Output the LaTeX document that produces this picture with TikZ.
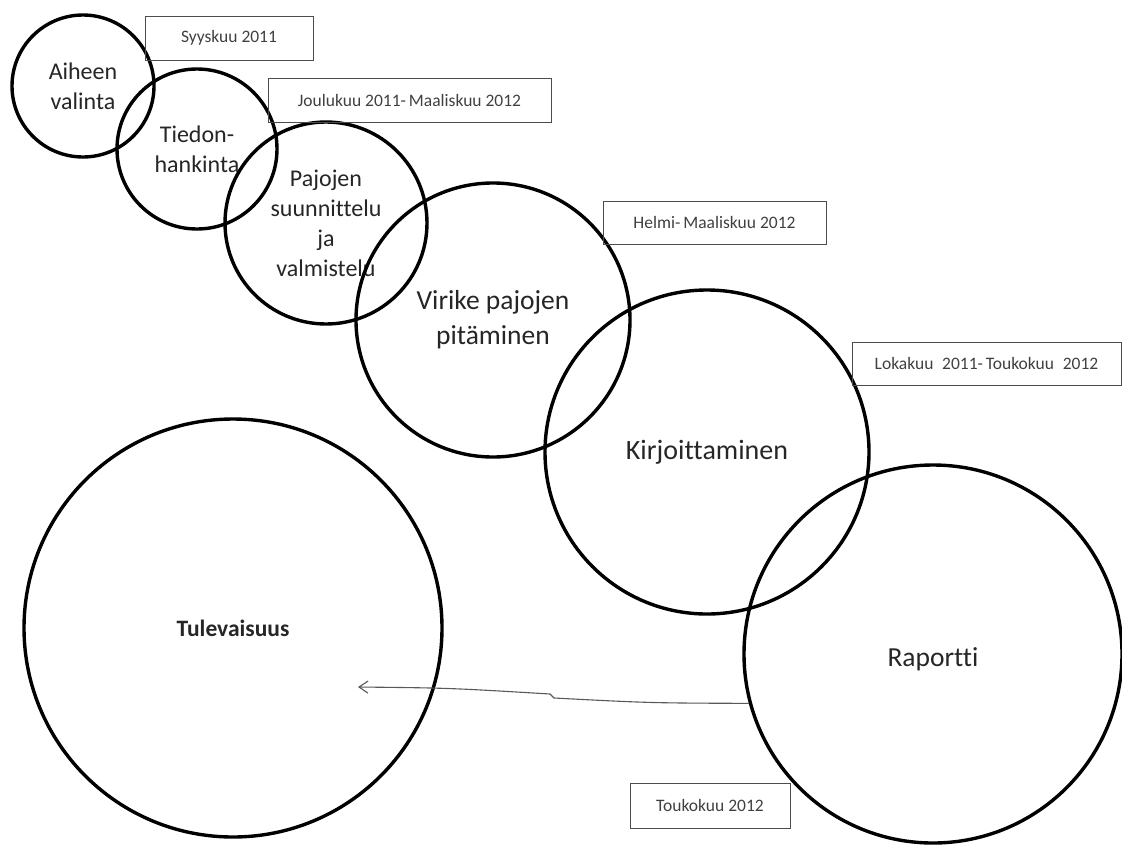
\documentclass[tikz,border=0pt]{standalone}
\usepackage{fontspec}
\setmainfont{Carlito}[Ligatures=NoCommon]
\usetikzlibrary{arrows.meta}
\begin{document}
\begin{tikzpicture}[x=1pt,y=-1pt,
  bub/.style={circle,draw=black,line width=3.4pt,inner sep=0pt,align=center,text=black!85},
  datebox/.style={draw=black!70,line width=1pt,inner sep=0pt,text=black!75,font=\fontsize{17.5}{20}\selectfont},
  arr/.style={draw=black!65,line width=1.1pt,-{Straight Barb[length=9pt,width=12pt]}}]
\useasboundingbox (0,0) rectangle (1122,846);
\node[bub,minimum size=142pt,font=\fontsize{24}{30}\selectfont] (aih) at (83,86) {Aiheen\\valinta};
\node[bub,minimum size=160pt,font=\fontsize{24}{30}\selectfont] (tie) at (197,149) {Tiedon-\\hankinta};
\node[bub,minimum size=202pt,font=\fontsize{24}{30}\selectfont] (paj) at (326,223) {Pajojen\\suunnittelu\\ja\\valmistelu};
\node[bub,minimum size=274pt,font=\fontsize{27.5}{35}\selectfont] (vir) at (493,320) {Virike pajojen\\pitäminen};
\node[bub,minimum size=324pt,font=\fontsize{28}{34}\selectfont] (kir) at (707,452) {Kirjoittaminen};
\node[bub,minimum size=378pt,font=\fontsize{27.5}{34}\selectfont,text height=31pt,text depth=6pt] (rap) at (933,654) {Raportti};
\node[bub,minimum size=418pt,font=\fontsize{23.5}{28}\selectfont\bfseries] (tul) at (233,628) {Tulevaisuus};
\node[datebox,minimum width=168pt,minimum height=44pt] (d1) at (229,38) {Syyskuu 2011};
\node[datebox,minimum width=283pt,minimum height=44pt] (d2) at (409.5,100) {Joulukuu 2011-\,Maaliskuu 2012};
\node[datebox,minimum width=223pt,minimum height=43pt] (d3) at (714.5,222.5) {Helmi-\,Maaliskuu 2012};
\node[datebox,minimum width=269pt,minimum height=43pt] (d4) at (986.5,363.5) {Lokakuu\enspace 2011-\,Toukokuu\enspace 2012};
\node[datebox,minimum width=160pt,minimum height=45pt] (d5) at (710,805.5) {Toukokuu 2012};
\coordinate (tip) at (358,687);
\draw[arr] (rap.195) .. controls (650,703) .. (554,698) -- (550,694) .. controls (450,688) .. (tip);
\end{tikzpicture}
\end{document}
